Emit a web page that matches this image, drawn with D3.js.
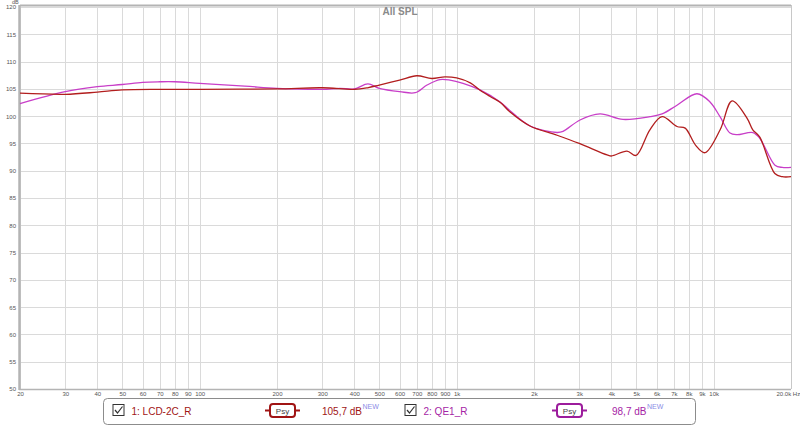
<!DOCTYPE html>
<html>
<head>
<meta charset="utf-8">
<script src="https://cdn.jsdelivr.net/npm/d3@7"></script>
<style>
  html, body { margin: 0; padding: 0; background: #fff; }
  svg { display: block; font-family: "Liberation Sans", Arial, sans-serif; }
</style>
</head>
<body>
<svg id="chart" width="800" height="425"></svg>
<script>
// ---- data ----
const title = "All SPL";
const xTickValues = [20,30,40,50,60,70,80,90,100,200,300,400,500,600,700,800,900,1000,2000,3000,4000,5000,6000,7000,8000,9000,10000,20000];
const xTickLabels = ["20","30","40","50","60","70","80","90","100","200","300","400","500","600","700","800","900","1k","2k","3k","4k","5k","6k","7k","8k","9k","10k","20.0k Hz"];
const yTickValues = [50,55,60,65,70,75,80,85,90,95,100,105,110,115,120];
const yUnit = "dB";

const redName = "1: LCD-2C_R";
const redLevel = "105,7 dB";
const redFreq = [20,30,40,50,70,100,200,300,400,450,500,600,700,800,900,1000,1130,1230,1350,1480,1610,1930,2460,3000,3850,4000,4600,4990,5650,6300,7200,7750,8500,9250,10600,11800,13500,14200,15100,17300,18500,20000];
const redDb   = [104.2,104.0,104.4,104.8,104.9,104.9,105.0,105.2,104.9,105.2,105.7,106.6,107.4,106.9,107.2,107.0,106.1,104.8,103.6,102.5,100.8,98.2,96.5,95.0,92.9,92.7,93.6,92.8,97.5,99.9,98.1,97.8,94.7,93.3,97.5,102.8,99.6,97.5,96.2,89.5,88.9,88.9];

const purpleName = "2: QE1_R";
const purpleLevel = "98,7 dB";
const purpleFreq = [20,30,40,50,60,70,80,100,150,200,300,350,400,452,500,600,690,767,861,942,1059,1233,1476,1614,1931,2458,2594,3020,3613,4440,5654,6300,7200,8612,9680,10588,11580,12330,14220,15140,17330,18500,20000];
const purpleDb   = [102.3,104.5,105.4,105.8,106.2,106.3,106.3,106.0,105.5,105.1,104.9,105.1,105.0,105.9,105.1,104.5,104.3,105.7,106.7,106.6,106.0,104.8,102.6,101.0,98.2,97.0,97.2,99.3,100.4,99.4,99.9,100.4,102.0,104.1,102.6,99.9,96.9,96.6,97.0,95.9,91.0,90.6,90.6];

// ---- layout ----
const svg = d3.select("#chart");
const pL = 20, pR = 791, pT = 7, pB = 389;
const x = d3.scaleLog().domain([20, 20000]).range([pL, pR]);
const y = d3.scaleLinear().domain([50, 120]).range([pB, pT]);

const redColor = "#b21e1e", purpleColor = "#c83ec8";
const redText = "#a01414", purpleText = "#a524a5";

// gridlines
const grid = svg.append("g");
grid.selectAll("line.h").data(yTickValues).join("line")
  .attr("x1", pL).attr("x2", pR)
  .attr("y1", d => Math.round(y(d)) + 0.5).attr("y2", d => Math.round(y(d)) + 0.5)
  .attr("stroke", "#dadada").attr("stroke-width", 1);
grid.selectAll("line.v").data(xTickValues).join("line")
  .attr("x1", d => Math.round(x(d)) + 0.5).attr("x2", d => Math.round(x(d)) + 0.5)
  .attr("y1", pT).attr("y2", pB)
  .attr("stroke", "#dadada").attr("stroke-width", 1);

// frame
svg.append("line").attr("x1", pL).attr("x2", pR).attr("y1", pT - 1.5).attr("y2", pT - 1.5)
  .attr("stroke", "#b4b4b4").attr("stroke-width", 2);
svg.append("line").attr("x1", pR + 0.5).attr("x2", pR + 0.5).attr("y1", pT - 2).attr("y2", pB)
  .attr("stroke", "#c8c8c8").attr("stroke-width", 1);
svg.append("line").attr("x1", pL - 1).attr("x2", pR).attr("y1", pB + 0.5).attr("y2", pB + 0.5)
  .attr("stroke", "#b4b4b4").attr("stroke-width", 1.5);
svg.append("line").attr("x1", pL - 0.5).attr("x2", pL - 0.5).attr("y1", pT - 2).attr("y2", pB + 1)
  .attr("stroke", "#b4b4b4").attr("stroke-width", 2.5);

// axes (ticks hidden, labels only)
const yAxis = d3.axisLeft(y).tickValues(yTickValues).tickSize(0).tickPadding(3).tickFormat(d3.format("d"));
const ya = svg.append("g").attr("transform", `translate(${pL - 1},0)`).call(yAxis);
ya.select(".domain").remove();
ya.selectAll("text").attr("font-size", 6).attr("fill", "#555").attr("font-family", "Liberation Sans, Arial, sans-serif");

const xAxis = d3.axisBottom(x).tickValues(xTickValues).tickSize(0).tickPadding(3)
  .tickFormat((d, i) => xTickLabels[i]);
const xa = svg.append("g").attr("transform", `translate(0,${pB})`).call(xAxis);
xa.select(".domain").remove();
xa.selectAll("text").attr("font-size", 6).attr("fill", "#555").attr("font-family", "Liberation Sans, Arial, sans-serif");
xa.selectAll("text").filter((d, i) => i === xTickLabels.length - 1).attr("text-anchor", "start").attr("dx", -15);

svg.append("text").attr("x", 12).attr("y", 4).attr("font-size", 5.5).attr("fill", "#555").text(yUnit);

// title
svg.append("text").attr("x", 400).attr("y", 15).attr("text-anchor", "middle")
  .attr("font-size", 10).attr("font-weight", "bold").attr("fill", "#8a8a8a").text(title);

// curves
const line = d3.line().x(d => x(d[0])).y(d => y(d[1])).curve(d3.curveCatmullRom.alpha(0.5));
const redPts = redFreq.map((f, i) => [f, redDb[i]]);
const purplePts = purpleFreq.map((f, i) => [f, purpleDb[i]]);
svg.append("path").datum(purplePts).attr("d", line).attr("fill", "none")
  .attr("stroke", purpleColor).attr("stroke-width", 1.3);
svg.append("path").datum(redPts).attr("d", line).attr("fill", "none")
  .attr("stroke", redColor).attr("stroke-width", 1.3);

// legend
const lg = svg.append("g");
lg.append("rect").attr("x", 103.5).attr("y", 398.5).attr("width", 592).attr("height", 26).attr("rx", 4)
  .attr("fill", "#fff").attr("stroke", "#8c8c8c").attr("stroke-width", 1);

function entry(cx, name, level, textCol, boxCol, psyX, levelX) {
  lg.append("rect").attr("x", cx + 0.5).attr("y", 404.5).attr("width", 11).attr("height", 11)
    .attr("fill", "#fff").attr("stroke", "#333").attr("stroke-width", 1);
  lg.append("path").attr("d", `M${cx + 2.5},${410} L${cx + 5},${413} L${cx + 10},${406.5}`)
    .attr("fill", "none").attr("stroke", "#333").attr("stroke-width", 1.2);
  lg.append("text").attr("x", cx + 19).attr("y", 414.5).attr("font-size", 10).attr("fill", textCol).text(name);
  lg.append("line").attr("x1", psyX - 5).attr("x2", psyX + 30).attr("y1", 410.5).attr("y2", 410.5)
    .attr("stroke", boxCol).attr("stroke-width", 2);
  lg.append("rect").attr("x", psyX).attr("y", 404).attr("width", 25).attr("height", 13).attr("rx", 3)
    .attr("fill", "#fff").attr("stroke", boxCol).attr("stroke-width", 2);
  lg.append("text").attr("x", psyX + 12.5).attr("y", 414).attr("text-anchor", "middle")
    .attr("font-size", 8).attr("fill", "#444").text("Psy");
  const t = lg.append("text").attr("x", levelX).attr("y", 414.5).attr("font-size", 10).attr("fill", textCol).text(level);
  const w = t.node().getComputedTextLength();
  lg.append("text").attr("x", levelX + w + 0.5).attr("y", 409).attr("font-size", 7).attr("fill", "#8c8ce6").text("NEW");
}
entry(112.5, redName, redLevel, redText, "#a01414", 270, 322);
entry(404.5, purpleName, purpleLevel, purpleText, "#9c1c9c", 557, 612);
</script>
</body>
</html>
